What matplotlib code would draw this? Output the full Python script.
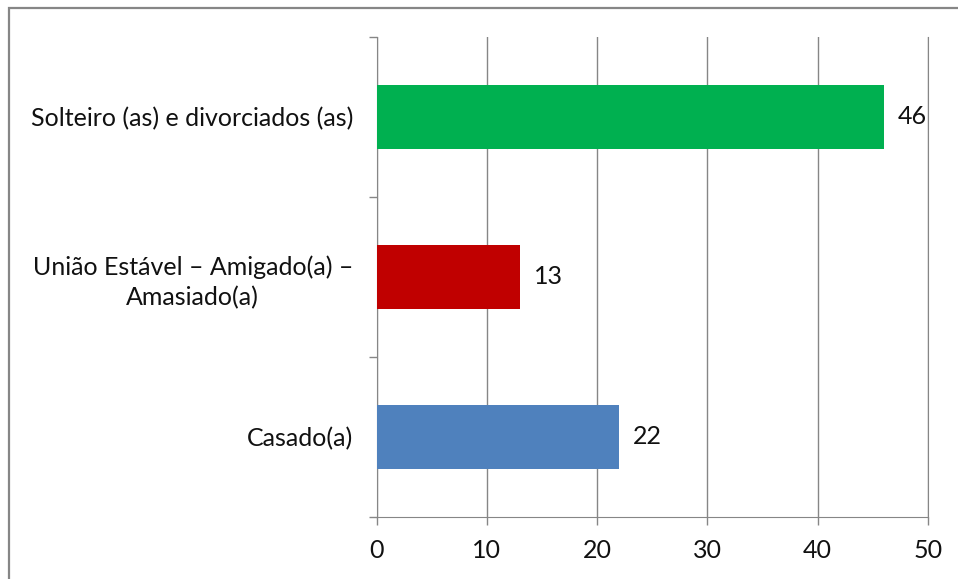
import matplotlib
matplotlib.use("Agg")
import matplotlib.pyplot as plt
from matplotlib.patches import Rectangle

categories = ["Casado(a)", "União Estável – Amigado(a) –\nAmasiado(a)", "Solteiro (as) e divorciados (as)"]
values = [22, 13, 46]
colors = ["#4F81BD", "#C00000", "#00B050"]
xticks = [0, 10, 20, 30, 40, 50]

plt.rcParams['font.family'] = ['Lato', 'DejaVu Sans']
W, H = 958, 579
fig = plt.figure(figsize=(W/100, H/100), dpi=100)
fig.patches.append(Rectangle((9/W, -0.1), 1.2, (H-8)/H + 0.1, transform=fig.transFigure,
                             fill=False, edgecolor="#868686", linewidth=1.6, zorder=0))

fs = 18
tc = "#111111"
ax = fig.add_axes([376.5/W, 1 - 517/H, (928-376.5)/W, (517-37)/H])
ypos = list(range(len(categories)))
ax.barh(ypos, values, height=0.4, color=colors, zorder=3)
ax.set_xlim(0, 50)
ax.set_ylim(-0.5, len(categories) - 0.5)
ax.set_xticks(xticks)
ax.set_xticklabels([str(t) for t in xticks], fontsize=fs, color=tc)
ax.set_yticks(ypos)
ax.set_yticklabels(categories, fontsize=fs, color=tc, multialignment="center", linespacing=1.35)
ax.set_yticks([y - 0.5 for y in range(len(categories) + 1)], minor=True)
ax.tick_params(axis='y', which='major', length=0, pad=17)
ax.tick_params(axis='y', which='minor', length=6, color="#868686", width=1)
ax.tick_params(axis='x', which='major', length=6, color="#868686", width=1, pad=10)
ax.grid(axis='x', color="#868686", linewidth=1, zorder=0)
ax.spines["top"].set_visible(False)
for s in ["left", "bottom", "right"]:
    ax.spines[s].set_color("#868686")
for y, v in zip(ypos, values):
    ax.annotate(str(v), (v, y), xytext=(10, 0), textcoords="offset points",
                va="center", ha="left", fontsize=fs, color=tc)

fig.savefig("out.png", dpi=100)
